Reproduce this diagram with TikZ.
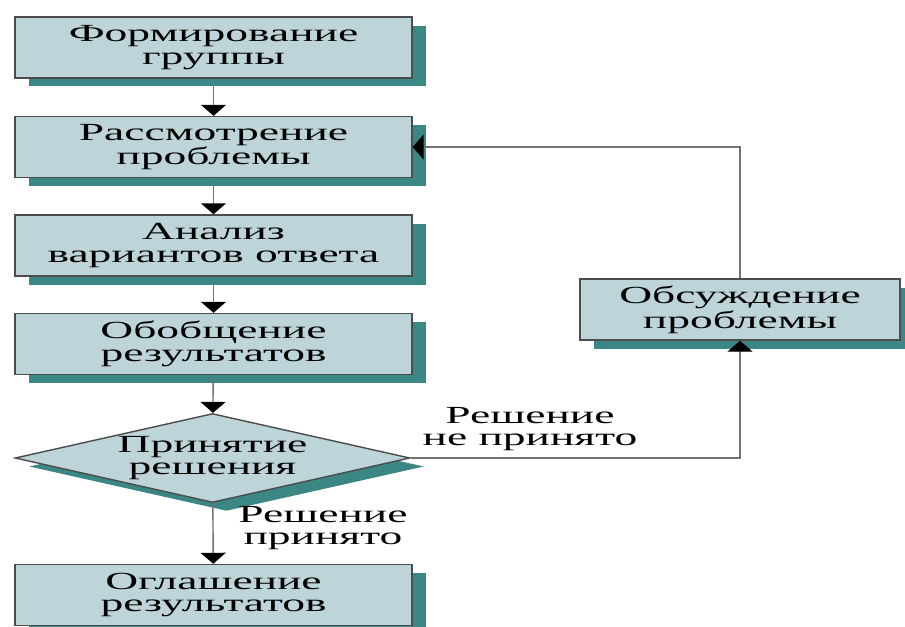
\documentclass[tikz,border=0pt]{standalone}
\usepackage{fontspec}
\setmainfont[FakeStretch=1.85]{Liberation Serif}
\usepackage{tikz}
\usetikzlibrary{arrows.meta, shapes.geometric, shadows}

\definecolor{blokfill}{HTML}{BDD5D9}
\definecolor{blokshadow}{HTML}{3A8786}

\begin{document}
\begin{tikzpicture}[x=0.02cm, y=-0.02cm,
            blok/.style={draw=black!70, line width=0.8pt, fill=blokfill,
                minimum width=7.94cm, minimum height=1.22cm, inner sep=0pt,
                align=center, font=\fontsize{14}{13}\selectfont,
                drop shadow={shadow xshift=0.28cm, shadow yshift=-0.17cm,
                    fill=blokshadow, opacity=1}},
            romb/.style={blok, diamond, aspect=4.4, minimum width=7.9cm,
                minimum height=1.78cm},
            strelka/.style={draw=black!55, line width=0.8pt,
                -{Triangle[width=0.5cm, length=0.22cm, color=black]}},
            metka/.style={align=center, font=\fontsize{14}{13}\selectfont}]
            \path[fill=white, use as bounding box] (0,0) rectangle (905,626);
            % left column
            \node[blok] (B_1) at (213.5,47.5) {Формирование\\группы};
            \node[blok] (B_2) at (213.5,147) {Рассмотрение\\проблемы};
            \node[blok] (B_3) at (213.5,245.5) {Анализ\\вариантов ответа};
            \node[blok] (B_4) at (213.5,344) {Обобщение\\результатов};
            \node[romb] (R) at (212.5,458) {Принятие\\решения};
            \node[blok] (B_5) at (213.5,595) {Оглашение\\результатов};
            % loop back
            \node[blok, minimum width=6.4cm] (O) at (740,309.5) {Обсуждение\\проблемы};
            \node[metka] (L_1) at (530,429) {Решение\\не принято};
            \node[metka] (L_2) at (323,528) {Решение\\принято};
            \draw[strelka] (B_1) -- (B_2);
            \draw[strelka] (B_2) -- (B_3);
            \draw[strelka] (B_3) -- (B_4);
            \draw[strelka] (B_4) -- (R);
            \draw[strelka] (R) -- (B_5);
            \draw[strelka] (R.east) -| (O.south);
            \draw[strelka] (O.north) |- (B_2.east);
        \end{tikzpicture}
\end{document}
